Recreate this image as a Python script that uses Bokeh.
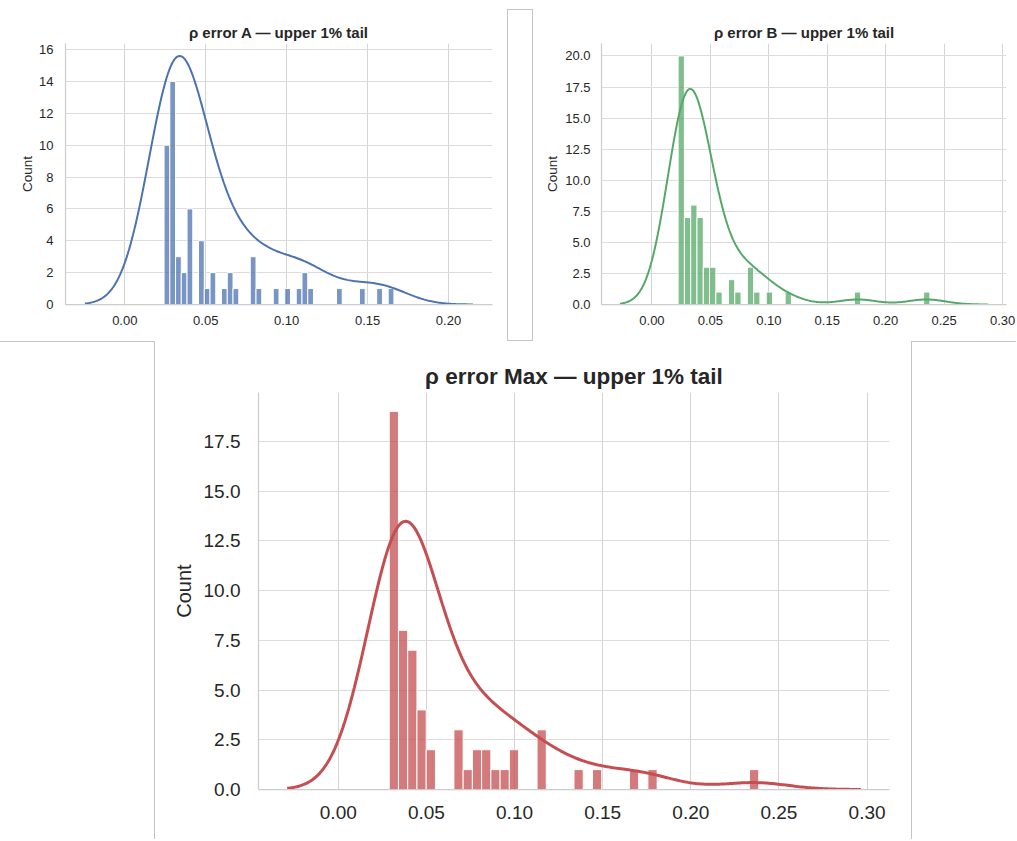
import numpy as np
from bokeh.plotting import figure
from bokeh.models import FixedTicker, Div, Range1d
from bokeh.layouts import row, column
from bokeh.embed import file_html
from bokeh.resources import INLINE

FONT = "Liberation Sans"
TEXT = "#262626"

# ---------------- data ----------------
# Panel A
A_TITLE = "ρ error A — upper 1% tail"
A_BIN_START = 0.02426
A_BIN_WIDTH = 0.003551
A_COUNTS = [10, 14, 3, 2, 6, 0, 4, 1, 2, 0,
            1, 2, 1, 0, 0, 3, 1, 0, 0, 1,
            0, 1, 0, 1, 2, 1, 0, 0, 0, 0,
            1, 0, 0, 0, 1, 0, 0, 1, 0, 1]
A_KDE_BW = 0.0163
A_KDE_PEAK = 15.6
A_XTICKS = [0.0, 0.05, 0.1, 0.15, 0.2]
A_XLABELS = ["0.00", "0.05", "0.10", "0.15", "0.20"]
A_YTICKS = [0, 2, 4, 6, 8, 10, 12, 14, 16]
A_YLABELS = ["0", "2", "4", "6", "8", "10", "12", "14", "16"]

# Panel B
B_TITLE = "ρ error B — upper 1% tail"
B_BIN_START = 0.02238
B_BIN_WIDTH = 0.005386
B_COUNTS = [20, 7, 8, 7, 3, 3, 1, 0, 2, 1,
            0, 3, 1, 0, 1, 0, 0, 1, 0, 0,
            0, 0, 0, 0, 0, 0, 0, 0, 1, 0,
            0, 0, 0, 0, 0, 0, 0, 0, 0, 1]
B_KDE_BW = 0.0166
B_KDE_PEAK = 17.35
B_XTICKS = [0.0, 0.05, 0.1, 0.15, 0.2, 0.25, 0.3]
B_XLABELS = ["0.00", "0.05", "0.10", "0.15", "0.20", "0.25", "0.30"]
B_YTICKS = [0.0, 2.5, 5.0, 7.5, 10.0, 12.5, 15.0, 17.5, 20.0]
B_YLABELS = ["0.0", "2.5", "5.0", "7.5", "10.0", "12.5", "15.0", "17.5", "20.0"]

# Panel Max
M_TITLE = "ρ error Max — upper 1% tail"
M_BIN_START = 0.02891
M_BIN_WIDTH = 0.005241
M_COUNTS = [19, 8, 7, 4, 2, 0, 0, 3, 1, 2,
            2, 1, 1, 2, 0, 0, 3, 0, 0, 0,
            1, 0, 1, 0, 0, 0, 1, 0, 1, 0,
            0, 0, 0, 0, 0, 0, 0, 0, 0, 1]
M_KDE_BW = 0.0193
M_KDE_PEAK = 13.48
M_XTICKS = [0.0, 0.05, 0.1, 0.15, 0.2, 0.25, 0.3]
M_XLABELS = ["0.00", "0.05", "0.10", "0.15", "0.20", "0.25", "0.30"]
M_YTICKS = [0.0, 2.5, 5.0, 7.5, 10.0, 12.5, 15.0, 17.5]
M_YLABELS = ["0.0", "2.5", "5.0", "7.5", "10.0", "12.5", "15.0", "17.5"]

COLORS = {"A": "#4C72B0", "B": "#55A868", "M": "#C44E52"}


def make_panel(title, start, width, counts, bw, peak, color,
               xticks, xlabels, yticks, ylabels,
               fig_w, fig_h, bl, br, bt, bb,
               title_size, tick_size, label_size, line_w,
               x_standoff, y_standoff, lab_standoff, title_standoff):
    counts = np.asarray(counts, dtype=float)
    edges = start + width * np.arange(len(counts) + 1)
    centers = 0.5 * (edges[:-1] + edges[1:])

    # gaussian KDE of the binned sample (seaborn-like support: cut = 3 bw)
    lo, hi = edges[0] - 3 * bw, edges[-1] + 3 * bw
    xs = np.linspace(lo, hi, 300)
    dens = (counts[None, :] *
            np.exp(-0.5 * ((xs[:, None] - centers[None, :]) / bw) ** 2)).sum(axis=1)
    ys = dens / dens.max() * peak

    span = hi - lo
    xr = Range1d(lo - 0.05 * span, hi + 0.05 * span)
    yr = Range1d(0, max(counts.max(), peak) * 1.05)

    p = figure(width=fig_w, height=fig_h, x_range=xr, y_range=yr,
               output_backend="svg", toolbar_location=None, title=title,
               min_border_left=bl, min_border_right=br,
               min_border_top=bt, min_border_bottom=bb, margin=0)
    p.background_fill_color = "white"
    p.border_fill_color = "white"
    p.outline_line_color = None

    m = counts > 0
    p.quad(left=edges[:-1][m], right=edges[1:][m], bottom=0, top=counts[m],
           fill_color=color, fill_alpha=0.75, line_color="white", line_width=1)
    p.line(xs, ys, line_color=color, line_width=line_w)

    p.title.text_font = FONT
    p.title.text_font_style = "bold"
    p.title.text_font_size = title_size
    p.title.text_color = TEXT
    p.title.align = "center"
    p.title.standoff = title_standoff

    p.xaxis.ticker = FixedTicker(ticks=xticks)
    p.xaxis.major_label_overrides = dict(zip(xticks, xlabels))
    p.yaxis.ticker = FixedTicker(ticks=yticks)
    p.yaxis.major_label_overrides = dict(zip(yticks, ylabels))
    p.xaxis.major_label_standoff = x_standoff
    p.yaxis.major_label_standoff = y_standoff
    for ax in (p.xaxis[0], p.yaxis[0]):
        ax.axis_line_color = "#cccccc"
        ax.axis_line_width = 1.25
        ax.major_tick_line_color = None
        ax.minor_tick_line_color = None
        ax.major_tick_out = 0
        ax.major_tick_in = 0
        ax.minor_tick_out = 0
        ax.minor_tick_in = 0
        ax.major_label_text_font = FONT
        ax.major_label_text_font_size = tick_size
        ax.major_label_text_color = TEXT
    p.yaxis.axis_label = "Count"
    p.yaxis.axis_label_text_font = FONT
    p.yaxis.axis_label_text_font_style = "normal"
    p.yaxis.axis_label_text_font_size = label_size
    p.yaxis.axis_label_text_color = TEXT
    p.yaxis.axis_label_standoff = int(lab_standoff)

    p.xgrid.grid_line_color = "#d4d4d4"
    p.ygrid.grid_line_color = "#dcdcdc"
    p.xgrid.grid_line_width = 1
    p.ygrid.grid_line_width = 1
    return p


pA = make_panel(A_TITLE, A_BIN_START, A_BIN_WIDTH, A_COUNTS, A_KDE_BW, A_KDE_PEAK,
                COLORS["A"], A_XTICKS, A_XLABELS, A_YTICKS, A_YLABELS,
                507, 341, 65, 15, 43, 37, "15px", "13px", "13.5px", 2,
                11, 12, 1, 6)
pB = make_panel(B_TITLE, B_BIN_START, B_BIN_WIDTH, B_COUNTS, B_KDE_BW, B_KDE_PEAK,
                COLORS["B"], B_XTICKS, B_XLABELS, B_YTICKS, B_YLABELS,
                483, 341, 68, 10, 43, 37, "15px", "13px", "13.5px", 2,
                11, 11, 2, 6)
pM = make_panel(M_TITLE, M_BIN_START, M_BIN_WIDTH, M_COUNTS, M_KDE_BW, M_KDE_PEAK,
                COLORS["M"], M_XTICKS, M_XLABELS, M_YTICKS, M_YLABELS,
                756, 498, 103, 22, 51, 50, "22.5px", "19px", "20px", 3,
                16, 18, 6, 7)


def box(w, h, sides, top_gap=0):
    st = {"box-sizing": "border-box"}
    for s in sides:
        st["border-" + s] = "1px solid #c4c4c4"
    return Div(text="", width=w, height=h, styles=st, margin=(top_gap, 0, 0, 0))


layout = column(
    row(pA, box(26, 332, ["top", "left", "right", "bottom"], top_gap=9), pB,
        spacing=0, margin=0),
    row(box(155, 498, ["top", "right"]), pM, box(105, 498, ["top", "left"]),
        spacing=0, margin=0),
    spacing=0, margin=0,
)

open("out.html", "w").write(file_html(layout, INLINE))
